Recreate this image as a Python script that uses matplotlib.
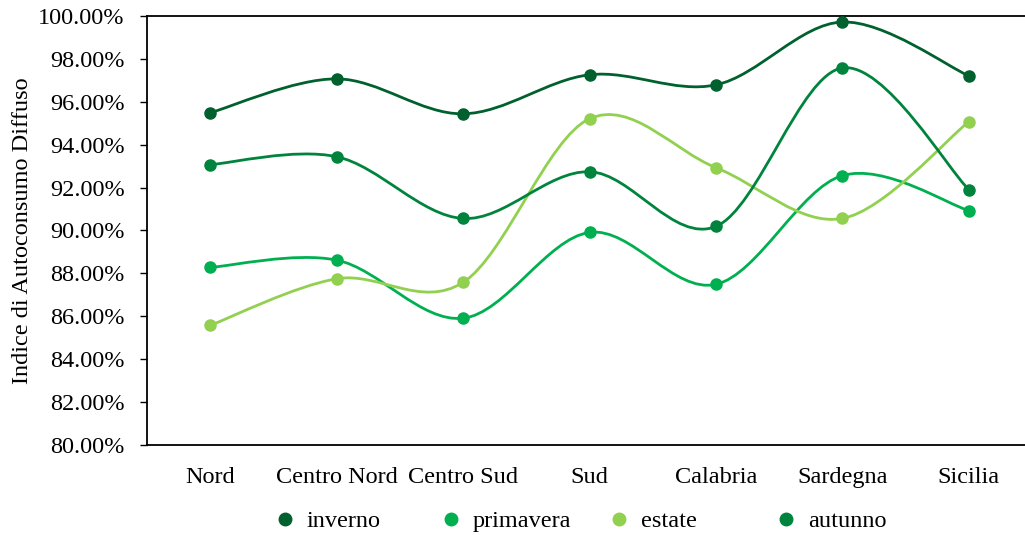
import matplotlib.pyplot as plt
from matplotlib.path import Path
from matplotlib.patches import PathPatch
from matplotlib.lines import Line2D
from matplotlib.ticker import FuncFormatter

plt.rcParams['font.family'] = ['Liberation Serif', 'DejaVu Serif']

regions = ['Nord', 'Centro Nord', 'Centro Sud', 'Sud', 'Calabria', 'Sardegna', 'Sicilia']
inverno = [95.49, 97.07, 95.44, 97.26, 96.79, 99.72, 97.21]
primavera = [88.28, 88.62, 85.91, 89.91, 87.49, 92.56, 90.93]
estate = [85.58, 87.75, 87.58, 95.21, 92.93, 90.56, 95.07]
autunno = [93.07, 93.44, 90.56, 92.74, 90.19, 97.58, 91.91]

series = [
    ('inverno', inverno, '#00612e'),
    ('primavera', primavera, '#00b050'),
    ('estate', estate, '#92d050'),
    ('autunno', autunno, '#00843d'),
]


def smooth_path(xs, ys):
    """Bezier path through the points, like Excel's smoothed line."""
    pts = list(zip(xs, ys))
    n = len(pts)
    verts = [pts[0]]
    codes = [Path.MOVETO]
    for i in range(n - 1):
        p0 = pts[max(i - 1, 0)]
        p1 = pts[i]
        p2 = pts[i + 1]
        p3 = pts[min(i + 2, n - 1)]
        c1 = (p1[0] + (p2[0] - p0[0]) / 6, p1[1] + (p2[1] - p0[1]) / 6)
        c2 = (p2[0] - (p3[0] - p1[0]) / 6, p2[1] - (p3[1] - p1[1]) / 6)
        verts += [c1, c2, p2]
        codes += [Path.CURVE4] * 3
    return Path(verts, codes)


fig = plt.figure(figsize=(10.25, 5.35), dpi=100)
ax = fig.add_axes([147 / 1025, 90 / 535, 885 / 1025, 429 / 535])

x = list(range(len(regions)))
handles = []
for name, vals, color in series:
    ax.add_patch(PathPatch(smooth_path(x, vals), facecolor='none',
                           edgecolor=color, lw=2.0, zorder=2))
    ax.plot(x, vals, linestyle='none', marker='o', markersize=8,
            color=color, zorder=3, clip_on=False)
    handles.append(Line2D([], [], linestyle='none', marker='o',
                          markersize=9, color=color, label=name))

ax.set_xlim(-0.5, 6.5)
ax.set_ylim(80, 100)
ax.set_yticks([80 + 2 * i for i in range(11)])
ax.yaxis.set_major_formatter(FuncFormatter(lambda v, p: f'{v:.2f}%'))
ax.set_xticks(x)
ax.set_xticklabels(regions)
ax.tick_params(axis='x', length=0, pad=16, labelsize=17.5)
ax.tick_params(axis='y', length=5, width=1, direction='out', labelsize=17.5, pad=11)
ax.spines['right'].set_visible(False)
for s in ['left', 'top', 'bottom']:
    ax.spines[s].set_linewidth(1.3)
ax.set_ylabel('Indice di Autoconsumo Diffuso', fontsize=17.5, labelpad=4)

# evenly spaced legend entries along the bottom
legend_x = [273, 439, 607, 774]
for h, lx in zip(handles, legend_x):
    leg = fig.legend(handles=[h], loc='center left', frameon=False,
                     fontsize=17.5, bbox_to_anchor=(lx / 1025, 14 / 535),
                     handletextpad=0.4, handlelength=1.0, borderpad=0,
                     borderaxespad=0)

fig.savefig('out.png', dpi=100)
